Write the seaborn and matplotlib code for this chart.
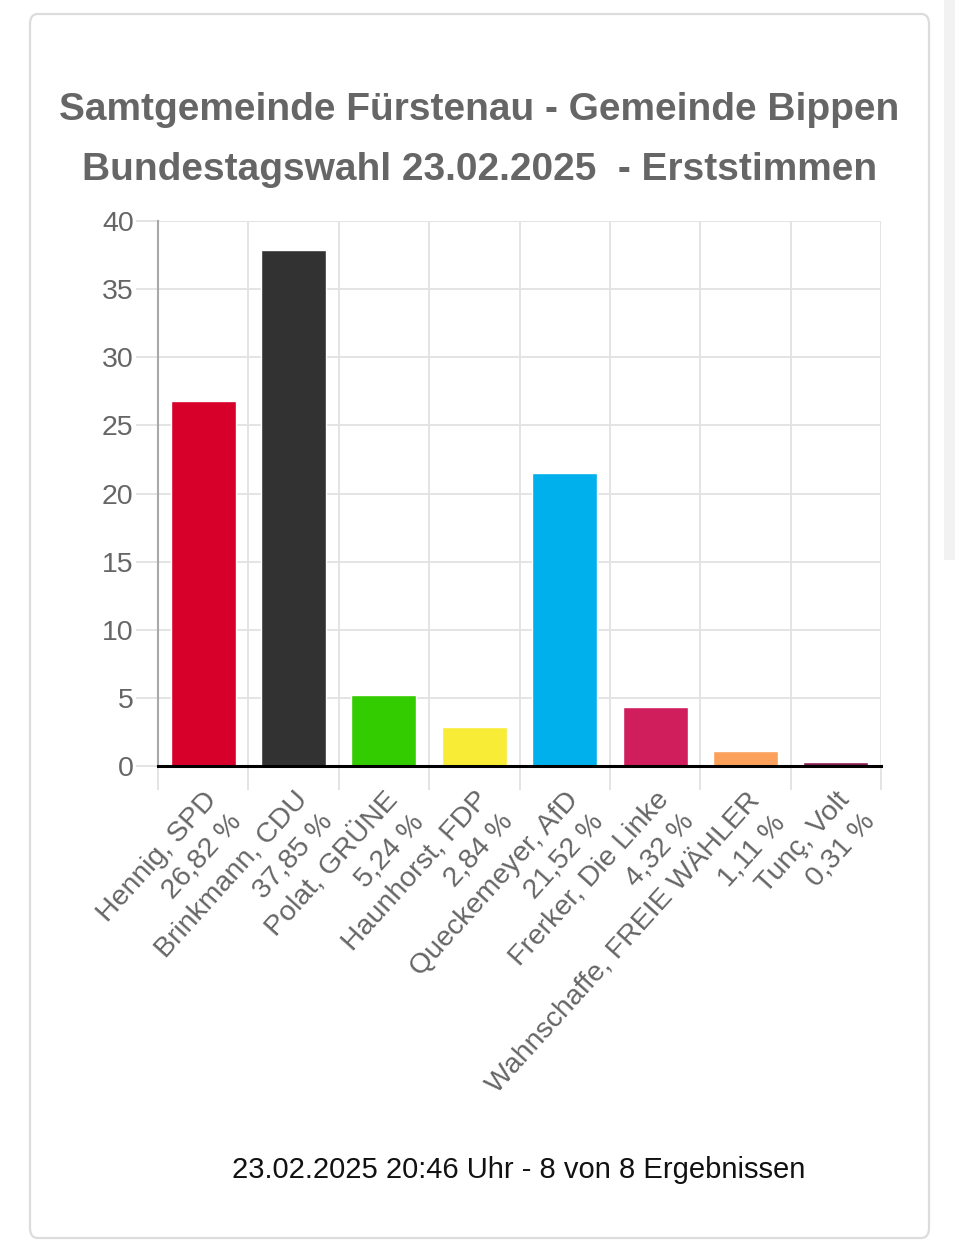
import matplotlib
matplotlib.use("Agg")
import matplotlib.pyplot as plt
import seaborn as sns
import numpy as np
from matplotlib.patches import FancyBboxPatch, Rectangle
from matplotlib.ticker import FixedLocator

# Erststimmen, Gemeinde Bippen
candidates = ["Hennig, SPD", "Brinkmann, CDU", "Polat, GRÜNE", "Haunhorst, FDP",
              "Queckemeyer, AfD", "Frerker, Die Linke", "Wahnschaffe, FREIE WÄHLER", "Tunç, Volt"]
percent = [26.82, 37.85, 5.24, 2.84, 21.52, 4.32, 1.11, 0.31]
party_colors = ["#d7002b", "#323232", "#33cc00", "#f9ec36",
                "#00b0ec", "#cf1e5b", "#fca15c", "#8a1f55"]
y_ticks = [0, 5, 10, 15, 20, 25, 30, 35, 40]

title_text = "Samtgemeinde Fürstenau - Gemeinde Bippen\nBundestagswahl 23.02.2025  - Erststimmen"
footer_text = "23.02.2025 20:46 Uhr - 8 von 8 Ergebnissen"

labels = [f"{n}\n{p:.2f} %".replace(".", ",") for n, p in zip(candidates, percent)]

sns.set_theme(style="white")
plt.rcParams["font.family"] = ["Liberation Sans", "DejaVu Sans"]

fig = plt.figure(figsize=(9.6, 12.53), dpi=100)
fig.patch.set_facecolor("white")

# card frame and side strip (behind the axes)
fig.patches.append(FancyBboxPatch((30 / 960, 1 - 1238 / 1253), 899 / 960, 1224 / 1253,
                                  boxstyle="round,pad=0,rounding_size=0.008",
                                  transform=fig.transFigure, facecolor="none",
                                  edgecolor="#dcdcdc", linewidth=1.6, zorder=-2))
fig.patches.append(Rectangle((944 / 960, 1 - 560 / 1253), 11 / 960, 560 / 1253,
                             transform=fig.transFigure, facecolor="#f2f2f2",
                             edgecolor="none", zorder=-2))

ax = fig.add_axes([158 / 960, 487 / 1253, 723 / 960, 545 / 1253])
ax.set_facecolor("none")

sns.barplot(x=labels, y=percent, hue=labels, palette=party_colors, legend=False,
            width=0.72, saturation=1, ax=ax, zorder=3)

ax.set_ylim(0, 40)
ax.set_xlim(-0.5, len(labels) - 0.5)
ax.set_yticks(y_ticks)
ax.set_yticklabels([str(t) for t in y_ticks])
ax.xaxis.set_minor_locator(FixedLocator(np.arange(-0.5, len(labels), 1.0)))
ax.set_axisbelow(True)

ax.grid(which="major", axis="y", color="#e2e2e2", linewidth=1.3)
ax.grid(which="minor", axis="x", color="#e2e2e2", linewidth=1.3)
ax.grid(which="major", axis="x", visible=False)

ax.tick_params(axis="y", which="major", length=16, width=1.3, color="#e2e2e2",
               pad=1.5, labelsize=20.5, labelcolor="#666666", left=True)
ax.tick_params(axis="x", which="major", length=0, pad=15, labelsize=20.5, labelcolor="#666666")
ax.tick_params(axis="x", which="minor", length=17, width=1.3, color="#e2e2e2", bottom=True)
ax.xaxis.get_minor_ticks()[0].tick1line.set_color("#a8a8a8")

for lab in ax.get_xticklabels():
    lab.set_rotation(48)
    lab.set_rotation_mode("anchor")
    lab.set_ha("right")
    lab.set_va("top")
    lab.set_multialignment("right")
    lab.set_linespacing(1.35)

for side in ["top", "right"]:
    ax.spines[side].set_visible(False)
ax.spines["left"].set_color("#a8a8a8")
ax.spines["left"].set_linewidth(1.5)
ax.spines["bottom"].set_color("black")
ax.spines["bottom"].set_linewidth(2.2)
ax.spines["bottom"].set_zorder(4)
ax.set_xlabel("")
ax.set_ylabel("")

fig.text(479.5 / 960, 1 - 92 / 1253, title_text, ha="center", va="top",
         fontsize=28, fontweight="bold", color="#666666", linespacing=1.85)

fig.text(519 / 960, 1 - 1170 / 1253, footer_text, ha="center", va="center",
         fontsize=21, color="#111111")

fig.savefig("out.png", dpi=100, facecolor="white")
